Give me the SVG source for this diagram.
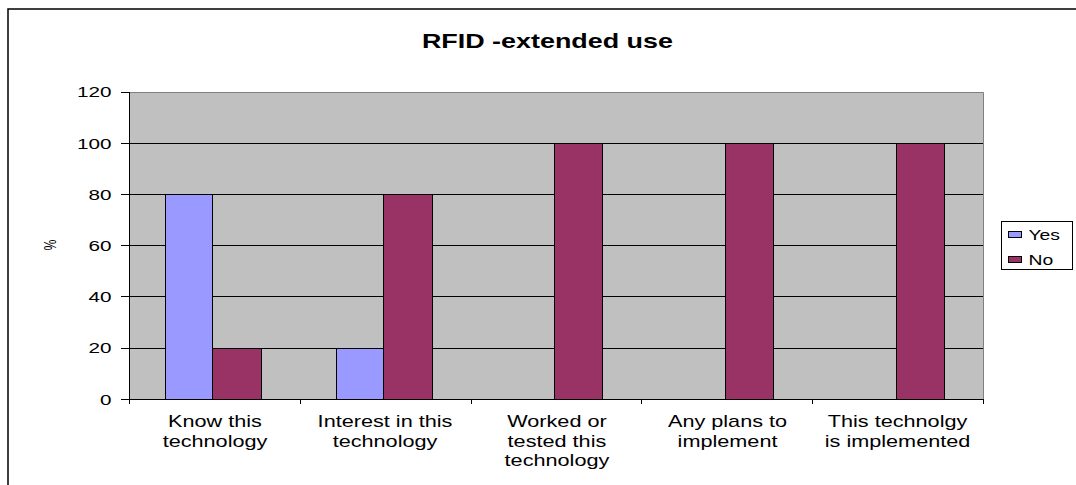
<svg xmlns="http://www.w3.org/2000/svg" width="1076" height="485" viewBox="0 0 1076 485">
<style>
text{font-family:"Liberation Sans",Arial,sans-serif;fill:#000}
.tl{font-size:15px;text-anchor:end}
.cat{font-size:15.7px;text-anchor:middle}
.leg{font-size:14px}
.grid{stroke:#000;stroke-width:1}
.yes{fill:#9999FF;stroke:#000;stroke-width:1}
.no{fill:#993366;stroke:#000;stroke-width:1}
</style>
<rect x="0" y="0" width="1076" height="485" fill="#fff"/>
<rect x="8" y="9" width="1100" height="520" fill="none" stroke="#000" stroke-width="1.5"/>
<g id="plot">
<rect x="129" y="92" width="854" height="307" fill="#C0C0C0"/>
<path d="M129 92.5H983.5V399" fill="none" stroke="#808080" stroke-width="1"/>
<g id="gridlines" class="grid">
<line x1="129" y1="143.5" x2="983" y2="143.5"/>
<line x1="129" y1="194.5" x2="983" y2="194.5"/>
<line x1="129" y1="245.5" x2="983" y2="245.5"/>
<line x1="129" y1="296.5" x2="983" y2="296.5"/>
<line x1="129" y1="348.5" x2="983" y2="348.5"/>
</g>
</g>
<g id="bars">
<rect class="yes" x="165.5" y="194.5" width="47" height="205"/>
<rect class="no" x="212.5" y="348.5" width="49" height="51"/>
<rect class="yes" x="336.5" y="348.5" width="47" height="51"/>
<rect class="no" x="383.5" y="194.5" width="49" height="205"/>
<rect class="no" x="554.5" y="143.5" width="48" height="256"/>
<rect class="no" x="725.5" y="143.5" width="48" height="256"/>
<rect class="no" x="896.5" y="143.5" width="48" height="256"/>
</g>
<g id="axes" stroke="#000" stroke-width="1" fill="none">
<path d="M129.5 92V404"/>
<path d="M121 399.5H983.5"/>
<path d="M121 92.5H129M121 143.5H129M121 194.5H129M121 245.5H129M121 296.5H129M121 348.5H129"/>
<path d="M300.5 399V404M471.5 399V404M641.5 399V404M812.5 399V404M983.5 399V404"/>
</g>
<g id="legend">
<rect x="1001.5" y="221.5" width="71" height="48" fill="#fff" stroke="#000" stroke-width="1"/>
<rect class="yes" x="1008.5" y="231.5" width="13" height="6"/>
<rect class="no" x="1008.5" y="256.5" width="13" height="6"/>
</g>
<g id="texts" transform="scale(1.38 1)">
<text x="396.7" y="48.3" font-size="19.5" font-weight="bold" text-anchor="middle">RFID -extended use</text>
<text class="tl" x="80.8" y="97.5">120</text>
<text class="tl" x="80.8" y="148.7">100</text>
<text class="tl" x="80.8" y="199.8">80</text>
<text class="tl" x="80.8" y="251">60</text>
<text class="tl" x="80.8" y="302.2">40</text>
<text class="tl" x="80.8" y="353.5">20</text>
<text class="tl" x="80.8" y="404.7">0</text>
<text x="36.2" y="245" font-size="12" text-anchor="middle" dominant-baseline="central" transform="rotate(-90 36.2 245)">%</text>
<text class="cat" x="155.8" y="427.3">Know this</text>
<text class="cat" x="155.8" y="446.7">technology</text>
<text class="cat" x="279" y="427.3">Interest in this</text>
<text class="cat" x="279" y="446.7">technology</text>
<text class="cat" x="403.6" y="427.3">Worked or</text>
<text class="cat" x="403.6" y="446.7">tested this</text>
<text class="cat" x="403.6" y="466">technology</text>
<text class="cat" x="527.2" y="427.3">Any plans to</text>
<text class="cat" x="527.2" y="446.7">implement</text>
<text class="cat" x="650.4" y="427.3">This technolgy</text>
<text class="cat" x="650.4" y="446.7">is implemented</text>
<text class="leg" x="745.3" y="240">Yes</text>
<text class="leg" x="745.3" y="265">No</text>
</g>
</svg>
